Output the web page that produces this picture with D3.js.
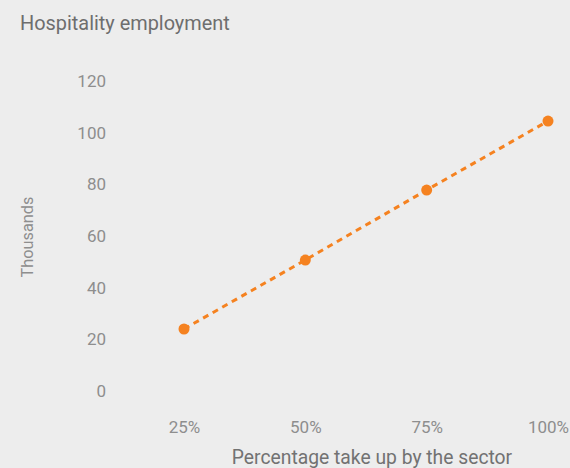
<!DOCTYPE html>
<html><head><meta charset="utf-8">
<script src="https://cdn.jsdelivr.net/npm/d3@7"></script>
<style>
html,body{margin:0;padding:0;background:#ededed;}
svg{display:block;font-family:Roboto,sans-serif;}
</style></head>
<body><svg id="c" width="570" height="468"></svg>
<script>
const categories = ["25%", "50%", "75%", "100%"];
const values = [24, 50.7, 77.8, 104.5];
const yTicks = [0, 20, 40, 60, 80, 100, 120];
const title = "Hospitality employment";
const xTitle = "Percentage take up by the sector";
const yTitle = "Thousands";

const svg = d3.select("#c");
svg.append("rect").attr("width",570).attr("height",468).attr("fill","#ededed");

const x = d3.scalePoint().domain(categories).range([184, 548]);
const y = d3.scaleLinear().domain([0, 120]).range([391, 81]);

svg.append("text").attr("x",20).attr("y",30).attr("fill","#6e6e6e")
  .attr("font-size",19.9).attr("font-family","Roboto,sans-serif").text(title);

const yAxis = svg.append("g").attr("transform","translate(106,0)")
  .call(d3.axisLeft(y).tickValues(yTicks).tickSize(0).tickPadding(0));
yAxis.select(".domain").remove();
yAxis.selectAll("text").attr("fill","#8e8e8e").attr("font-size",17)
  .attr("font-family","Roboto,sans-serif");

const xAxis = svg.append("g").attr("transform","translate(0,421)")
  .call(d3.axisBottom(x).tickSize(0).tickPadding(0));
xAxis.select(".domain").remove();
xAxis.selectAll("text").attr("fill","#8e8e8e").attr("font-size",17)
  .attr("font-family","Roboto,sans-serif");

svg.append("text").attr("x",372).attr("y",464).attr("text-anchor","middle")
  .attr("fill","#727272").attr("font-size",19.3).attr("font-family","Roboto,sans-serif").text(xTitle);

svg.append("text").attr("transform","translate(33,237) rotate(-90)")
  .attr("text-anchor","middle").attr("fill","#8e8e8e").attr("font-size",16.3)
  .attr("font-family","Roboto,sans-serif").text(yTitle);

const data = categories.map((c,i)=>({c, v: values[i]}));
const line = d3.line().x(d=>x(d.c)).y(d=>y(d.v));
svg.append("path").datum(data).attr("d",line).attr("fill","none")
  .attr("stroke","#f58220").attr("stroke-width",3).attr("stroke-dasharray","6,5");
svg.selectAll("circle.pt").data(data).join("circle").attr("class","pt")
  .attr("cx",d=>x(d.c)).attr("cy",d=>y(d.v)).attr("r",5.5).attr("fill","#f58220");
</script></body></html>
